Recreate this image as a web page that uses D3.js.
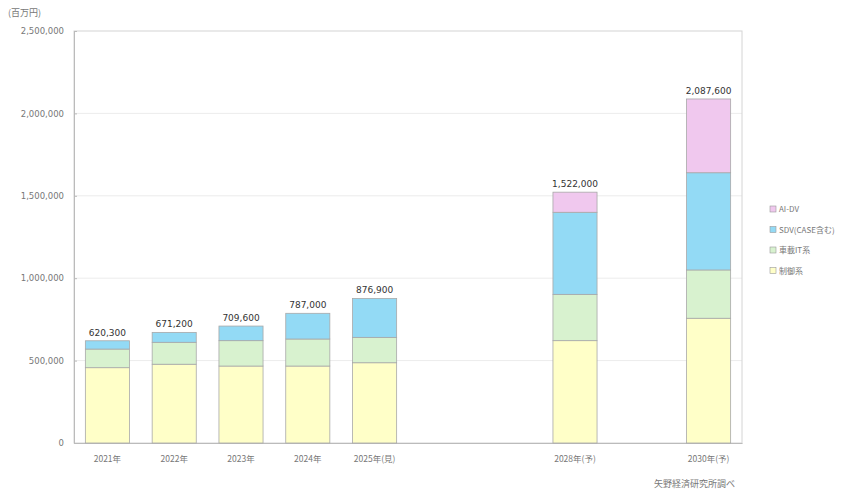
<!DOCTYPE html>
<html><head><meta charset="utf-8">
<script src="https://cdn.jsdelivr.net/npm/d3@7"></script>
<style>
body{margin:0;background:#fff;}
text{font-family:"Noto Sans CJK JP","DejaVu Sans",sans-serif;}
</style></head>
<body><svg id="c" width="857" height="496"></svg>
<script>
const categories = ["2021","2022","2023","2024","2025","2026","2027","2028","2029","2030"];
const catLabels = ["2021年","2022年","2023年","2024年","2025年(見)","","","2028年(予)","","2030年(予)"];
const seriesNames = ["制御系","車載IT系","SDV(CASE含む)","AI-DV"];
const seriesColors = ["#ffffc8","#d8f2cf","#93daf5","#f0c8ee"];
const control = [457000,478000,467000,467000,487000,null,null,621000,null,757000];
const inCarIT = [113000,133000,154000,164000,154000,null,null,281000,null,293000];
const sdv     = [50300,60200,88600,156000,235900,null,null,498000,null,590000];
const aidv    = [0,0,0,0,0,null,null,122000,null,447600];
const totals  = [620300,671200,709600,787000,876900,null,null,1522000,null,2087600];
const yTicks  = [0,500000,1000000,1500000,2000000,2500000];

const svg = d3.select("#c");
const L=74,R=742,T=31,B=443;
const x = d3.scaleBand().domain(categories).range([L,R]).paddingInner(0.34).paddingOuter(0.17);
const y = d3.scaleLinear().domain([0,2500000]).range([B,T]);
const fmt = d3.format(",");

// gridlines
svg.append("g").selectAll("line").data(yTicks.slice(1,-1)).join("line")
  .attr("x1",L).attr("x2",R).attr("y1",d=>y(d)).attr("y2",d=>y(d))
  .attr("stroke","#ececec").attr("stroke-width",1);
// frame
svg.append("rect").attr("x",L).attr("y",T).attr("width",R-L).attr("height",B-T)
  .attr("fill","none").attr("stroke","#d4d4d4");

// y axis
const ya = svg.append("g").attr("transform",`translate(${L},0)`)
  .call(d3.axisLeft(y).tickValues(yTicks).tickFormat(fmt).tickSize(-3).tickPadding(10));
ya.select(".domain").attr("stroke","#bbb");
ya.selectAll(".tick line").attr("stroke","#bbb");
ya.selectAll("text").attr("fill","#777").style("font-size","8.5px").style("font-family","'DejaVu Sans',sans-serif");

// x axis
const xa = svg.append("g").attr("transform",`translate(0,${B})`)
  .call(d3.axisBottom(x).tickFormat((d,i)=>catLabels[i]).tickSize(0).tickPadding(13));
xa.select(".domain").attr("stroke","#bbb");
xa.selectAll("text").attr("fill","#777").style("font-size","8.5px");

// stacked data
const rows = categories.map((c,i)=>({cat:c,s0:control[i],s1:inCarIT[i],s2:sdv[i],s3:aidv[i],total:totals[i]})).filter(d=>d.total!=null);
const stack = d3.stack().keys(["s0","s1","s2","s3"])(rows);
svg.append("g").selectAll("g").data(stack).join("g")
  .attr("fill",(d,i)=>seriesColors[i])
  .selectAll("rect").data(d=>d.filter(p=>p[1]-p[0]>0)).join("rect")
  .attr("x",d=>x(d.data.cat)).attr("width",x.bandwidth())
  .attr("y",d=>y(d[1])).attr("height",d=>y(d[0])-y(d[1]))
  .attr("stroke","#a8a8a8").attr("stroke-width",0.8);

// totals
svg.append("g").selectAll("text").data(rows).join("text")
  .attr("x",d=>x(d.cat)+x.bandwidth()/2).attr("y",d=>y(d.total)-5)
  .attr("text-anchor","middle").attr("fill","#333")
  .style("font-size","9px").style("font-family","'DejaVu Sans',sans-serif")
  .text(d=>fmt(d.total));

// legend
const lg = svg.append("g").attr("transform","translate(770,209)");
const order=[3,2,1,0];
order.forEach((si,k)=>{
  const g=lg.append("g").attr("transform",`translate(0,${k*20.5})`);
  g.append("rect").attr("x",0).attr("y",-3).attr("width",6).attr("height",6)
   .attr("fill",seriesColors[si]).attr("stroke","#999").attr("stroke-width",0.6);
  g.append("text").attr("x",9).attr("y",3).attr("fill","#777").style("font-size","8px").text(seriesNames[si]);
});

// unit label
svg.append("text").attr("x",8).attr("y",16).attr("fill","#777").style("font-size","9px").text("(百万円)");
// source
svg.append("text").attr("x",735).attr("y",487).attr("text-anchor","end").attr("fill","#777").style("font-size","9px").text("矢野経済研究所調べ");
</script></body></html>
